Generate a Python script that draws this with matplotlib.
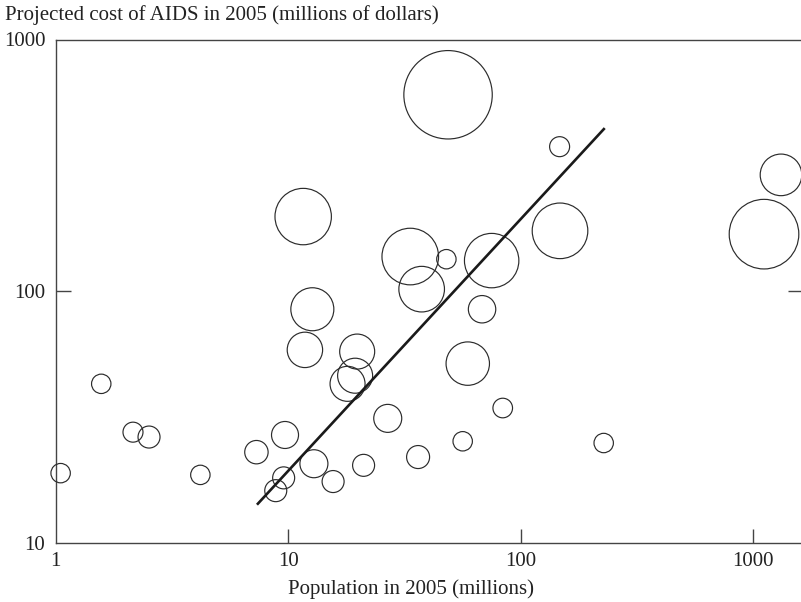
"""
Bubble chart: projected AIDS cost against population, log-log, with fitted line.
"""

import matplotlib

matplotlib.use("Agg")
import matplotlib.pyplot as plt
import numpy as np

# population in 2005 (millions)
population = [
    1.05, 1.57, 2.15, 2.52, 4.19, 7.30, 9.69, 9.56, 8.84, 12.9,
    15.6, 21.1, 26.8, 36.2, 56.3, 18.0, 19.4, 11.8, 19.8, 12.7,
    11.6, 33.5, 37.5, 48.7, 147.0, 47.9, 75.0, 147.6, 68.2, 59.2,
    83.7, 227.5, 1317.0, 1113.0,
]
# projected cost of AIDS in 2005 (millions of dollars)
cost = [
    18.9, 42.8, 27.5, 26.3, 18.6, 22.9, 26.8, 18.1, 16.1, 20.6,
    17.5, 20.3, 31.2, 21.9, 25.3, 42.8, 46.1, 58.4, 57.5, 84.7,
    197.8, 137.2, 101.8, 603.0, 375.0, 133.9, 132.2, 173.6, 84.7, 51.5,
    34.3, 24.9, 289.7, 168.4,
]
# relative bubble size
weight = [
    9.7, 9.7, 10.0, 11.0, 9.7, 11.7, 13.5, 11.0, 11.0, 14.0,
    11.0, 11.0, 14.0, 11.5, 9.7, 17.5, 17.5, 17.7, 17.5, 21.5,
    28.2, 28.3, 22.8, 44.2, 10.0, 9.7, 27.2, 27.8, 13.7, 21.7,
    9.8, 9.7, 20.8, 34.8,
]

# fitted line end points
fit_x = [7.34, 229.8]
fit_y = [14.16, 444.4]

FONT = "Liberation Serif"
FS = 15
INK = "#2b2b2b"

fig = plt.figure(figsize=(8.01, 6.02), dpi=100)
W, H = 801, 602
ax = fig.add_axes([55.7 / W, (H - 542.7) / H, (803 - 55.7) / W, (542.7 - 39.5) / H])

# marker size in points^2 from radius in pixels
diam_pt = np.array(weight) * 2 * 0.72
ax.scatter(population, cost, s=diam_pt ** 2, facecolors="none",
           edgecolors=INK, linewidths=0.85, zorder=3, clip_on=False)
ax.plot(fit_x, fit_y, color="#1a1a1a", lw=1.9, solid_capstyle="butt", zorder=4)

ax.set_xscale("log")
ax.set_yscale("log")
ax.set_xlim(1, 10 ** (747.3 / 232.5))
ax.set_ylim(10, 1000)

for side in ["left", "bottom", "top"]:
    ax.spines[side].set_color("#444444")
    ax.spines[side].set_linewidth(1.0)
ax.spines["right"].set_visible(False)

ax.set_xticks([1, 10, 100, 1000])
ax.set_xticklabels(["1", "10", "100", "1000"])
ax.set_yticks([10, 100, 1000])
ax.set_yticklabels(["10", "100", "1000"])
ax.minorticks_off()
ax.tick_params(axis="x", direction="in", length=10, width=1.0, color="#444444",
               top=False, pad=6.5, labelsize=FS)
ax.tick_params(axis="y", direction="in", length=10.5, width=1.0, color="#444444",
               right=True, pad=7.5, labelsize=FS)
for lbl in ax.get_xticklabels() + ax.get_yticklabels():
    lbl.set_fontfamily(FONT)
    lbl.set_color("#222222")

# hide the tick marks that sit on the spines
for t in ax.xaxis.get_major_ticks()[:1]:
    t.tick1line.set_visible(False)
for t in ax.yaxis.get_major_ticks():
    if t.get_loc() in (10, 1000):
        t.tick1line.set_visible(False)
        t.tick2line.set_visible(False)

fig.text(5 / W, 1 - 15 / H, "Projected cost of AIDS in 2005 (millions of dollars)",
         ha="left", va="center", fontsize=FS, family=FONT, color="#222222")
fig.text(411.5 / W, 1 - 589 / H, "Population in 2005 (millions)",
         ha="center", va="center", fontsize=FS, family=FONT, color="#222222")

fig.savefig("out.png", dpi=100)
